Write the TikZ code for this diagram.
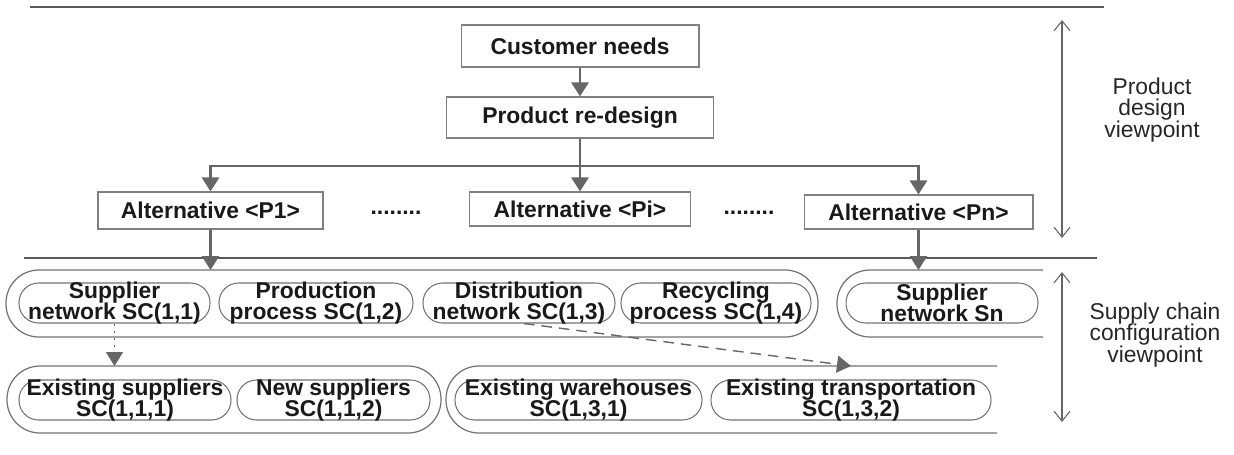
\documentclass[tikz,border=0pt]{standalone}
\usepackage{fontspec}
\setmainfont{Liberation Sans}
\usetikzlibrary{arrows.meta}

\tikzset{
    txt/.style={font=\bfseries\fontsize{13pt}{12.3pt}\selectfont, text=black!90, align=center},
    box/.style={txt, draw=gray, line width=0.6pt, inner sep=0pt},
    pill/.style={txt, draw=gray!90!black, line width=0.6pt, rounded corners=0.39cm,
        minimum height=0.8cm, inner xsep=0pt, inner ysep=-2pt},
    band/.style={draw=gray!90!black, line width=0.7pt, rounded corners=0.66cm},
    arr/.style={draw=gray!80!black, line width=1.5pt, -{Triangle[width=0.34cm,length=0.28cm]}},
    sepline/.style={draw=gray!70!black, line width=0.8pt},
    viewarrow/.style={draw=gray!80!black, line width=0.6pt,
        {Straight Barb[length=0.2cm,width=0.32cm]}-{Straight Barb[length=0.2cm,width=0.32cm]}},
    viewlabel/.style={font=\fontsize{13pt}{12.3pt}\selectfont, text=black!85, align=center},
}

\begin{document}
\begin{tikzpicture}[x=0.02cm,y=-0.02cm]
    \useasboundingbox (0,0) rectangle (1234,454);

    % the two viewpoints
    \draw[sepline] (30,7) -- (1104,7);
    \draw[sepline] (24,258) -- (1097,258);

    % product design part
    \node[box, minimum width=4.76cm, minimum height=0.84cm] (needs) at (580,46) {Customer needs};
    \node[box, minimum width=5.34cm, minimum height=0.82cm] (redesign) at (580,117.5) {Product re-design};
    \node[box, minimum width=4.5cm, minimum height=0.74cm] (altA) at (210.5,210.5) {Alternative <P1>};
    \node[box, minimum width=4.42cm, minimum height=0.68cm] (altI) at (580,209) {Alternative <Pi>};
    \node[box, minimum width=4.58cm, minimum height=0.68cm] (altN) at (918.5,212) {Alternative <Pn>};
    \node[txt, anchor=base] (dotsA) at (396,214) {........};
    \node[txt, anchor=base] (dotsB) at (749,214) {........};

    \coordinate (split) at (580,166);
    \draw[arr] (needs) -- (redesign);
    \draw[arr] (redesign) -- (altI);
    \draw[arr] (split) -| (altA.north);
    \draw[arr] (split) -| (altN.north);

    % supply chain part
    \coordinate (row1) at (0,270);
    \coordinate (row2) at (0,366);
    \draw[band] (6,270) rectangle (818,337);
    \draw[band] (1043,270) -- (837,270) -- (837,337) -- (1043,337);
    \draw[band] (7,366) rectangle (441,433);
    \draw[band] (997,366) -- (446,366) -- (446,433) -- (997,433);

    \node[pill, minimum width=3.82cm] (sc11) at (114.5,303) {Supplier\\network SC(1,1)};
    \node[pill, minimum width=3.88cm] (sc12) at (316,303) {Production\\process SC(1,2)};
    \node[pill, minimum width=3.84cm] (sc13) at (519,303) {Distribution\\network SC(1,3)};
    \node[pill, minimum width=3.8cm] (sc14) at (716,303) {Recycling\\process SC(1,4)};
    \node[pill, minimum width=3.84cm] (scn) at (942,303) {Supplier\\network Sn};

    \node[pill, minimum width=4.24cm] (sc111) at (125,400) {Existing suppliers\\SC(1,1,1)};
    \node[pill, minimum width=3.86cm] (sc112) at (333.5,400) {New suppliers\\SC(1,1,2)};
    \node[pill, minimum width=4.94cm] (sc131) at (578.5,400) {Existing warehouses\\SC(1,3,1)};
    \node[pill, minimum width=5.6cm] (sc132) at (851,400) {Existing transportation\\SC(1,3,2)};

    \draw[arr] (altA.south) -- (altA.south |- row1);
    \draw[arr] (altN.south) -- (altN.south |- row1);
    \draw[arr, line width=0.9pt, dash pattern=on 1.5pt off 2.5pt] (sc11.south) -- (sc11.south |- row2);
    \draw[arr, line width=0.8pt, dash pattern=on 6pt off 4pt] ([xshift=0.1cm]sc13.south) -- (sc132.north |- row2);

    % viewpoint arrows
    \draw[viewarrow] (1062,20) -- (1062,238);
    \draw[viewarrow] (1062,272) -- (1062,422);
    \node[viewlabel] (pdview) at (1152,110) {Product\\design\\viewpoint};
    \node[viewlabel] (scview) at (1155,335) {Supply chain\\configuration\\viewpoint};
\end{tikzpicture}
\end{document}
